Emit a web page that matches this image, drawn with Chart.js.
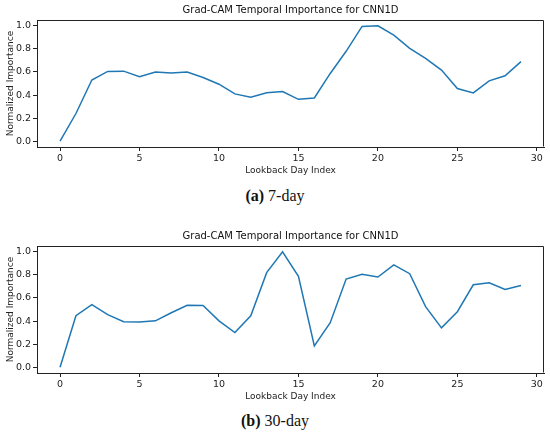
<!DOCTYPE html>
<html>
<head>
<meta charset="utf-8">
<script src="https://cdn.jsdelivr.net/npm/chart.js@4"></script>
<style>
  html, body { margin: 0; padding: 0; background: #fff; }
  #page { position: relative; width: 550px; height: 436px; overflow: hidden; }
  .panel { position: absolute; left: 0; width: 550px; height: 176px; }
  .caption {
    position: absolute; left: 0; width: 550px; text-align: center;
    font-family: "Liberation Serif", "DejaVu Serif", serif; font-size: 16px; color: #111;
  }
</style>
</head>
<body>
<div id="page">
  <div class="panel" style="top:0"><canvas id="chart7"></canvas></div>
  <div class="caption" style="top:187px"><b>(a)</b> 7-day</div>
  <div class="panel" style="top:226px"><canvas id="chart30"></canvas></div>
  <div class="caption" style="top:412px"><b>(b)</b> 30-day</div>
</div>
<script>
/* lookback day indices 0..29 */
const days = [0, 1, 2, 3, 4, 5, 6, 7, 8, 9, 10, 11, 12, 13, 14,
              15, 16, 17, 18, 19, 20, 21, 22, 23, 24, 25, 26, 27, 28, 29];

/* normalized Grad-CAM importance */
const importance7 = [0.00, 0.24, 0.53, 0.605, 0.607, 0.558, 0.60, 0.59, 0.599, 0.552,
                     0.494, 0.41, 0.381, 0.42, 0.43, 0.363, 0.375, 0.587, 0.779, 0.994,
                     1.00, 0.919, 0.805, 0.718, 0.616, 0.456, 0.419, 0.523, 0.567, 0.689];
const importance30 = [0.00, 0.446, 0.542, 0.455, 0.394, 0.391, 0.402, 0.472, 0.536, 0.534,
                      0.402, 0.30, 0.446, 0.819, 1.00, 0.787, 0.184, 0.385, 0.764, 0.805,
                      0.781, 0.886, 0.81, 0.525, 0.341, 0.481, 0.714, 0.732, 0.673, 0.708];

const xTicks = [0, 5, 10, 15, 20, 25, 30];
const yTicks = [0.0, 0.2, 0.4, 0.6, 0.8, 1.0];

const TITLE = "Grad-CAM Temporal Importance for CNN1D";
const X_LABEL = "Lookback Day Index";
const Y_LABEL = "Normalized Importance";

const FONT = "'DejaVu Sans', sans-serif";
const AXIS_COLOR = "#222";

/* matplotlib-style closed frame round the plot area */
const framePlugin = {
  id: "plotFrame",
  afterDatasetsDraw(chart) {
    const { ctx, chartArea: a } = chart;
    const l = Math.round(a.left) + 0.5, r = Math.round(a.right) - 0.5;
    const t = Math.round(a.top) + 0.5, b = Math.round(a.bottom) - 0.5;
    ctx.save();
    ctx.strokeStyle = AXIS_COLOR;
    ctx.lineWidth = 1;
    ctx.beginPath();
    ctx.moveTo(l, t);
    ctx.lineTo(r, t);
    ctx.lineTo(r, b);
    ctx.stroke();
    ctx.restore();
  },
};
Chart.register(framePlugin);

function makeChart(id, values) {
  const ctx = document.getElementById(id).getContext("2d");
  return new Chart(ctx, {
    type: "line",
    data: {
      datasets: [{
        data: days.map((d, i) => ({ x: d, y: values[i] })),
        borderColor: "#1f77b4",
        borderWidth: 1.5,
        pointRadius: 0,
        tension: 0,
        fill: false,
      }],
    },
    options: {
      responsive: true,
      maintainAspectRatio: false,
      animation: false,
      layout: { padding: { left: 5, right: 6, top: 0, bottom: 0 } },
      plugins: {
        legend: { display: false },
        tooltip: { enabled: false },
        title: {
          display: true,
          text: TITLE,
          fullSize: false,
          color: "#111",
          font: { family: FONT, size: 10, weight: "normal" },
          padding: { top: 4, bottom: 4 },
        },
      },
      scales: {
        x: {
          type: "linear",
          min: -1.45,
          max: 30.45,
          afterBuildTicks: (axis) => { axis.ticks = xTicks.map((v) => ({ value: v })); },
          afterFit: (axis) => { axis.height = 29; },
          border: { color: AXIS_COLOR, width: 1 },
          grid: { drawOnChartArea: false, drawTicks: true, tickLength: 4, color: AXIS_COLOR },
          ticks: { color: "#222", font: { family: FONT, size: 9.5 }, padding: 2, maxRotation: 0 },
          title: {
            display: true, text: X_LABEL, color: "#222",
            font: { family: FONT, size: 9 }, padding: { top: 0, bottom: 0 },
          },
        },
        y: {
          min: -0.05,
          max: 1.05,
          afterBuildTicks: (axis) => { axis.ticks = yTicks.map((v) => ({ value: v })); },
          afterFit: (axis) => { axis.width = 32; },
          border: { color: AXIS_COLOR, width: 1 },
          grid: { drawOnChartArea: false, drawTicks: true, tickLength: 4, color: AXIS_COLOR },
          ticks: {
            color: "#222", font: { family: FONT, size: 9.5 }, padding: 2,
            callback: (v) => v.toFixed(1),
          },
          title: {
            display: true, text: Y_LABEL, color: "#222",
            font: { family: FONT, size: 9 }, padding: { top: 0, bottom: 0 },
          },
        },
      },
    },
  });
}

makeChart("chart7", importance7);
makeChart("chart30", importance30);
</script>
</body>
</html>
